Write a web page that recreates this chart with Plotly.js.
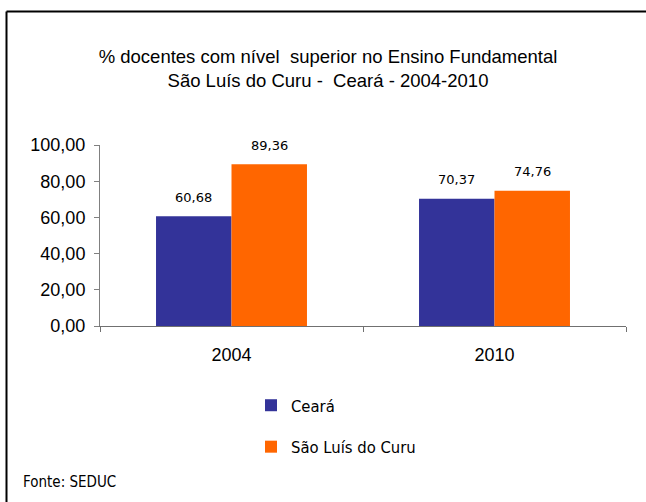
<!DOCTYPE html>
<html>
<head>
<meta charset="utf-8">
<script src="https://cdn.plot.ly/plotly-3.0.1.min.js"></script>
<style>html,body{margin:0;padding:0;background:#fff;overflow:hidden;}#chart{width:646px;height:502px;}</style>
</head>
<body>
<div id="chart"></div>
<script>
var categories = ['2004', '2010'];
var seriesNames = ['Ceará', 'São Luís do Curu'];
var cearaValues = [60.68, 70.37];
var saoLuisValues = [89.36, 74.76];
var yTickValues = [0, 20, 40, 60, 80, 100];
var titleLine1 = '% docentes com nível  superior no Ensino Fundamental';
var titleLine2 = 'São Luís do Curu -  Ceará - 2004-2010';
var sourceText = 'Fonte: SEDUC';

var colors = ['#333399', '#FF6600'];
var allSeries = [cearaValues, saoLuisValues];

var traces = allSeries.map(function (vals, s) {
  return {
    type: 'bar',
    name: seriesNames[s],
    x: categories,
    y: vals,
    marker: {color: colors[s], line: {width: 0}},
    legendgroup: 'g' + s,
    hoverinfo: 'skip'
  };
});

function fmt(v) { return v.toFixed(2).replace('.', ','); }

var annotations = [];
var bargap = 0.426;
var barW = (1 - bargap) / 2;
allSeries.forEach(function (vals, s) {
  vals.forEach(function (v, i) {
    annotations.push({
      xref: 'x', yref: 'y',
      x: i + (s === 0 ? -barW / 2 : barW / 2),
      y: v,
      yshift: 19,
      text: fmt(v),
      showarrow: false,
      font: {family: 'DejaVu Sans', size: 13, color: '#000'}
    });
  });
});
annotations.push({
  xref: 'paper', yref: 'paper',
  x: (21 - 100) / 526, y: (326 - 482) / 181,
  xanchor: 'left', yanchor: 'middle',
  text: sourceText, showarrow: false,
  font: {family: 'DejaVu Sans Condensed', size: 15, color: '#000'}
});

var frameX = (6.5 - 100) / 526;
var frameTop = (326 - 11.5) / 181;

var layout = {
  width: 646, height: 502,
  margin: {l: 100, r: 20, t: 145, b: 176},
  paper_bgcolor: '#fff', plot_bgcolor: '#fff',
  separators: ',.',
  barmode: 'group',
  bargap: bargap,
  bargroupgap: 0,
  title: {
    text: titleLine1 + '<br>' + titleLine2,
    x: 328 / 646, xanchor: 'center',
    y: 1 - 63 / 502, yanchor: 'middle',
    font: {family: 'Liberation Sans, Arial', size: 18.5, color: '#000'}
  },
  xaxis: {
    type: 'category',
    showline: true, linecolor: '#707070', linewidth: 1,
    ticks: 'outside', ticklen: 5, tickcolor: '#707070', tickson: 'boundaries',
    tickfont: {family: 'Liberation Sans, Arial', size: 18, color: '#000'},
    ticklabelstandoff: 12,
    showgrid: false, zeroline: false
  },
  yaxis: {
    range: [0, 100],
    tickvals: yTickValues,
    tickformat: '.2f',
    showline: true, linecolor: '#808080', linewidth: 1,
    ticks: 'outside', ticklen: 5, tickcolor: '#808080',
    tickfont: {family: 'Liberation Sans, Arial', size: 18, color: '#000'},
    ticklabelstandoff: 5,
    showgrid: false, zeroline: false
  },
  showlegend: true,
  legend: {
    x: (251 - 100) / 526, xanchor: 'left',
    y: (326 - 388) / 181, yanchor: 'top',
    traceorder: 'grouped',
    tracegroupgap: 17,
    font: {family: 'DejaVu Sans Condensed', size: 16.5, color: '#000'},
    bgcolor: 'rgba(0,0,0,0)'
  },
  annotations: annotations,
  shapes: [
    {type: 'line', xref: 'paper', yref: 'paper',
     x0: frameX, x1: (646 - 100) / 526, y0: frameTop, y1: frameTop,
     line: {color: '#000', width: 2}},
    {type: 'line', xref: 'paper', yref: 'paper',
     x0: frameX, x1: frameX, y0: frameTop, y1: (326 - 502) / 181,
     line: {color: '#000', width: 2}}
  ]
};

Plotly.newPlot('chart', traces, layout, {displayModeBar: false, staticPlot: true});
</script>
</body>
</html>
